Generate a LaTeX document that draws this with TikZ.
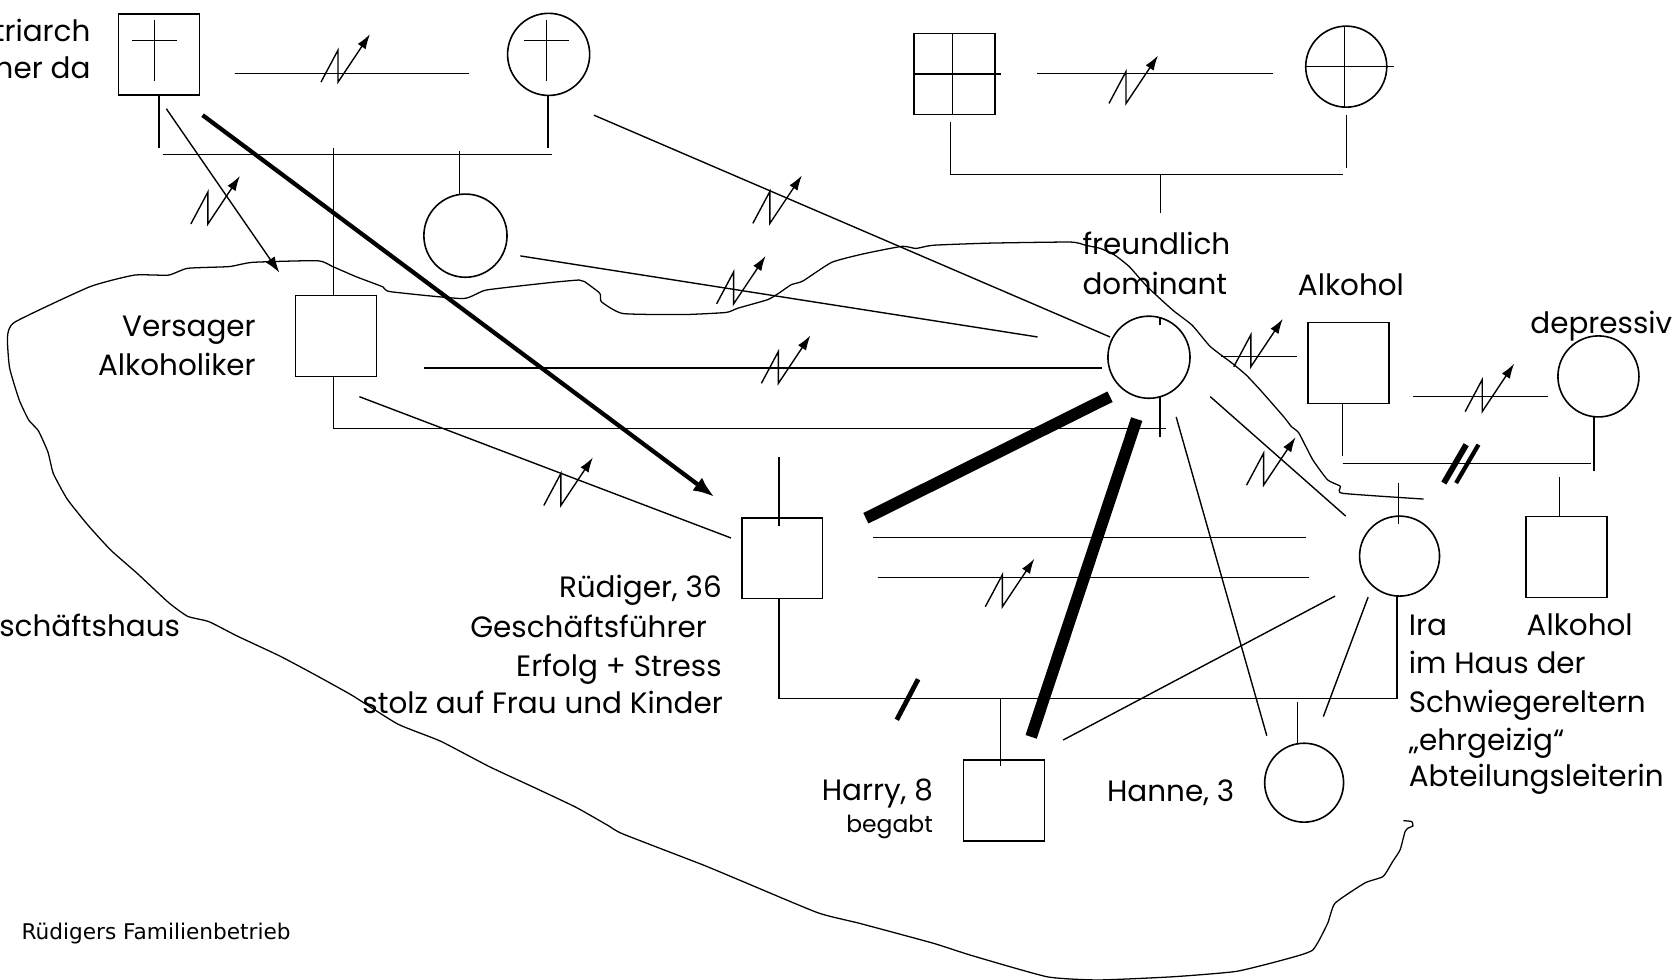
\documentclass[tikz,border=0pt]{standalone}
\usepackage{fontspec}
\newfontfamily\capfont{DejaVu Sans}
\newfontfamily\geofont{Poppins}
\usetikzlibrary{arrows.meta}
% geometric sans for the person labels
\newcommand\gothic{\geofont\fontsize{27.6}{36.5}\selectfont}
\newcommand\gothicsmall{\geofont\fontsize{22}{27}\selectfont}

\tikzset{
  lin/.style={line width=1.3pt},
  male/.style={draw, line width=1.5pt, rectangle, minimum size=76pt, inner sep=0pt},
  female/.style={draw, line width=1.5pt, circle, minimum size=77pt, inner sep=0pt},
  lbl/.style={font=\gothic, inner sep=0pt},
  lblsmall/.style={font=\gothicsmall, inner sep=0pt},
  heavy/.style={line width=11pt},
  cutmark/.style={line width=4.5pt},
  thinarrow/.style={lin, -{Latex[length=15pt,width=10pt]}},
  boldarrow/.style={line width=4pt, -{Latex[length=20pt,width=15pt]}},
  outline/.style={line width=1.2pt, line join=round},
  % conflict symbol: zig-zag ending in an arrow
  zig/.pic={\draw[lin, -{Latex[length=14pt,width=9pt]}] (-16,0) -- (0,-30) -- (0,0) -- (30,-45);}
}

\begin{document}
\begin{tikzpicture}[x=1pt,y=-1pt]
\useasboundingbox (0,0) rectangle (1568,919);

% ---------- boundary of the family business ----------
\draw[outline] plot[smooth,tension=0.3] coordinates {
(1335,468) (1259,462.6) (1257,456) (1245,450) (1231,431) (1218,406) (1211,400) (1204,391)
(1183,367) (1169,352) (1156,341) (1135,325) (1118,305) (1100,291) (1076,269) (1059,250)
(1045,239) (1032,233) (1018,230) (1004,227) (928,228) (875,230) (859,233) (846,231)
(810,238) (780,246) (753,263.5) (742,267) (731,274.5) (720,281) (692,289) (681,293)
(641,295) (584,294) (564,283) (562.5,275) (548,264) (543,262.6) (516,265) (456,272)
(434,280) (366,273.5) (359,269) (334,259.5) (312,250) (298,244.5) (237,246) (215,250)
(176,251.6) (158,258) (126,258) (84,269) (14,302) (7,316) (9,345) (18,375) (27,394)
(36,404) (45,424) (50,444) (63,468) (82.5,492.5) (104,516) (129,538) (158,565) (176,578)
(196,583) (222.5,596.5) (262,615) (294,632) (330,652) (373,679) (413,695) (459,719)
(502,739) (540,757) (570,774) (584,782) (659,811) (695,826) (767,856) (806.5,866)
(875,884.5) (911,896) (982,916) (1030,919) (1100,916) (1159,911) (1204,900) (1231,891)
(1245,866) (1252,847) (1280,828) (1297,822) (1306,808) (1313,797) (1317.6,780)
(1320.6,776.5) (1325,774.6) (1324,770.5) (1316,769.6)};

% ---------- persons ----------
\node[male]   (gf)     at (149,51) {};
\node[female] (gm)     at (514.5,51) {};
\node[female, minimum size=78pt] (aunt) at (436.5,221) {};
\node[male]   (vers)   at (315,315) {};
\node[male]   (ggf)    at (895,69.5) {};
\node[female, minimum size=76pt] (ggm) at (1262.5,62.5) {};
\node[female] (mother) at (1077.5,335) {};
\node[male]   (alk)    at (1264.5,340.5) {};
\node[female, minimum size=76pt] (dep) at (1499,353) {};
\node[male, minimum size=75.5pt] (rud) at (733.6,523.5) {};
\node[female, minimum size=75pt] (ira) at (1312.5,521.5) {};
\node[male]   (alkson) at (1469,522.3) {};
\node[male]   (harry)  at (941.5,750.5) {};
\node[female, minimum size=74pt] (hanne) at (1223,734) {};

% deceased marks and grid
\draw[lin] (145,19) -- (145,76) (124,38) -- (166,38);
\draw[lin] (512.5,19) -- (512.5,76) (491,38) -- (534,38);
\draw[lin] (893,32) -- (893,107) (857,69.4) -- (939,69.4);
\draw[lin] (1261,24.5) -- (1261,100.5) (1224.7,62.5) -- (1307,62.5);

% ---------- family lines ----------
\coordinate (gfm1) at (220,69);   \coordinate (gfm2) at (440,69);
\draw[lin] (gfm1) -- (gfm2);
\pic at (317,77) {zig};
\draw[lin] (149,89) -- (149,139) (514,89) -- (514,139);
\draw[lin] (153,145) -- (518,145);
\draw[lin] (313,139) -- (313,277);
\draw[lin] (430.7,142) -- (430.7,181.5);

\coordinate (ggm1) at (972.6,69);  \coordinate (ggm2) at (1193.6,69);
\draw[lin] (ggm1) -- (ggm2);
\pic at (1056,97) {zig};
\draw[lin] (891.5,114) -- (891.5,163.5) -- (1259,163.5);
\draw[lin] (1262.6,107.8) -- (1262.6,157.8);
\draw[lin] (1088.5,163.5) -- (1088.5,200);
\draw[lin] (1088,297.6) -- (1088,305);

\draw[lin] (313,353) -- (313,402) -- (1093.5,402);
\draw[lin] (1088,372.6) -- (1088,409.5);

\coordinate (alkm1) at (1325,372); \coordinate (alkm2) at (1452,372);
\draw[lin] (alkm1) -- (alkm2);
\pic at (1390,386) {zig};
\draw[lin] (1259,378) -- (1259,428) (1495,391) -- (1495,442);
\draw[lin] (1259,434.5) -- (1492,434.5);
\draw[line width=5.5pt] (1354,453) -- (1375,417);
\draw[line width=4pt] (1365.5,453) -- (1386.5,417);
\draw[lin] (1311.5,453) -- (1311.5,491);
\draw[lin] (1462.6,447) -- (1462.6,484.5);

\coordinate (ma1) at (1145,334.5); \coordinate (ma2) at (1216,334.5);
\draw[lin] (ma1) -- (ma2);
\pic at (1173,344) {zig};

\draw[lin] (730.5,429) -- (730.5,493);
\draw[lin] (730.5,561.4) -- (730.5,655) -- (1310,655) -- (1310,558.6);
\draw[cutmark] (841,675) -- (861,637);
\draw[lin] (938.3,655) -- (938.3,718.8);
\draw[lin] (1216.7,658.6) -- (1216.7,697);

% ---------- relationship lines ----------
\coordinate (a1) at (156,102);   \coordinate (a2) at (262,255.7);
\draw[thinarrow] (a1) -- (a2);
\pic at (195,210) {zig};
\coordinate (b1) at (190,108);   \coordinate (b2) at (670,466);
\draw[boldarrow] (b1) -- (b2);

\coordinate (c1) at (557,108);   \coordinate (c2) at (1041,316);
\draw[lin] (c1) -- (c2);
\pic at (722,209.5) {zig};
\coordinate (d1) at (488,240);   \coordinate (d2) at (973,316);
\draw[lin] (d1) -- (d2);
\pic at (688,285) {zig};
\coordinate (e1) at (398,345);   \coordinate (e2) at (1033,345);
\draw[lin] (e1) -- (e2);
\pic at (730,359.5) {zig};
\coordinate (f1) at (337,372);   \coordinate (f2) at (685.5,504.5);
\draw[lin] (f1) -- (f2);
\pic at (526,474) {zig};

\coordinate (g1) at (1041,372);  \coordinate (g2) at (812,486);
\draw[heavy] (g1) -- (g2);
\coordinate (h1) at (1066,393);  \coordinate (h2) at (967,691);
\draw[heavy] (h1) -- (h2);

\coordinate (i1) at (819,504);   \coordinate (i2) at (1225,504);
\coordinate (i3) at (823,541.5); \coordinate (i4) at (1228,541.5);
\draw[lin] (i1) -- (i2) (i3) -- (i4);
\pic at (940,569) {zig};

\coordinate (j1) at (1135,372);  \coordinate (j2) at (1262,484);
\draw[lin] (j1) -- (j2);
\pic at (1185,455) {zig};
\coordinate (k1) at (1103,391);  \coordinate (k2) at (1188,690);
\draw[lin] (k1) -- (k2);
\coordinate (l1) at (1252,559);  \coordinate (l2) at (997,694);
\draw[lin] (l1) -- (l2);
\coordinate (m1) at (1283,560);  \coordinate (m2) at (1241,672);
\draw[lin] (m1) -- (m2);

% ---------- labels ----------
\node[lbl, anchor=base east] (tp1) at (85,39) {Patriarch};
\node[lbl, anchor=base east] (tp2) at (85,74) {immer da};
\node[lbl, anchor=base east] (tv1) at (240,316) {Versager};
\node[lbl, anchor=base east] (tv2) at (240,352) {Alkoholiker};
\node[lbl, anchor=base east] (tg)  at (169,596.5) {Geschäftshaus};
\node[lbl, anchor=base east] (tr1) at (677,560) {Rüdiger, 36};
\node[lbl, anchor=base east] (tr2) at (663,597.5) {Geschäftsführer};
\node[lbl, anchor=base east] (tr3) at (677,634.3) {Erfolg + Stress};
\node[lbl, anchor=base east] (tr4) at (678,669) {stolz auf Frau und Kinder};
\node[lbl, anchor=base east] (th1) at (875,751) {Harry, 8};
\node[lblsmall, anchor=base east] (th2) at (875,781) {begabt};
\node[lbl, anchor=base west] (tha) at (1038,752) {Hanne, 3};
\node[lbl, anchor=base west] (ti1) at (1321,595.5) {Ira};
\node[lbl, anchor=base west] (ta2) at (1431.5,595.5) {Alkohol};
\node[lbl, anchor=base west] (ti2) at (1321,631.4) {im Haus der};
\node[lbl, anchor=base west] (ti3) at (1321,668.4) {Schwiegereltern};
\node[lbl, anchor=base west] (ti4) at (1321,703.4) {„ehrgeizig“};
\node[lbl, anchor=base west] (ti5) at (1321,738) {Abteilungsleiterin};
\node[lbl, anchor=base west] (tm1) at (1015,239) {freundlich};
\node[lbl, anchor=base west] (tm2) at (1015,276) {dominant};
\node[lbl, anchor=base west] (ta1) at (1217,277) {Alkohol};
\node[lbl, anchor=base west] (td)  at (1435,313) {depressiv};
\node[font=\capfont\fontsize{20.3}{24}\selectfont, inner sep=0pt, anchor=base west] (cap) at (20,881) {Rüdigers Familienbetrieb};
\end{tikzpicture}
\end{document}
